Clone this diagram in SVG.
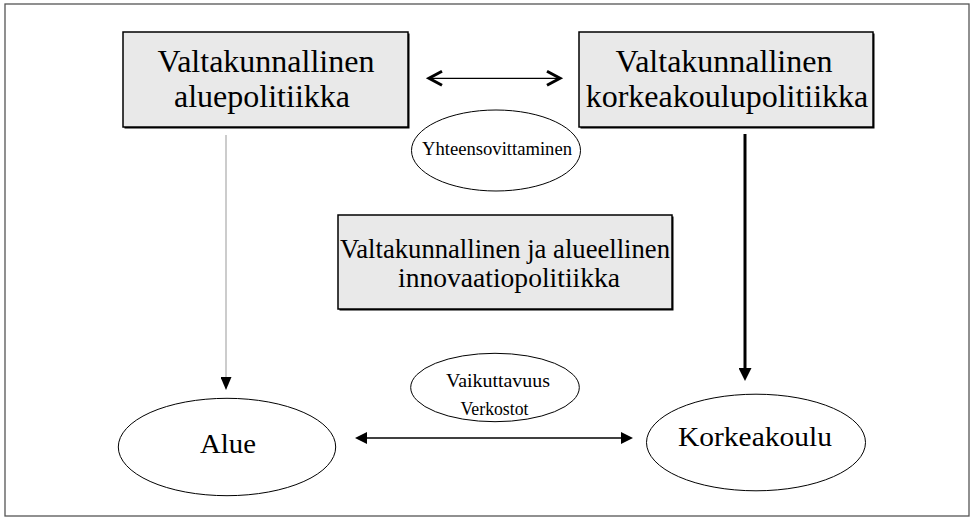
<svg xmlns="http://www.w3.org/2000/svg" width="978" height="518" viewBox="0 0 978 518">
<style>
.frame{fill:none;stroke:#555;stroke-width:1.3}
.box{fill:#e9e9e9;stroke:#000;stroke-width:1.5}
.shadow{fill:#000}
.ell{fill:#fff;stroke:#000;stroke-width:1}
.t{font-family:"Liberation Serif","Times New Roman",serif;fill:#000;text-anchor:middle}
.big{font-size:32px}
.mid{font-size:27px}
.lab{font-size:28px}
.sm{font-size:18px}
</style>
<defs>
<marker id="triS" markerUnits="userSpaceOnUse" viewBox="0 0 13 11" markerWidth="13" markerHeight="11" refX="0" refY="5.5" orient="auto-start-reverse"><path d="M0,0 L13,5.5 L0,11 z" fill="#000"/></marker>
<marker id="triB" markerUnits="userSpaceOnUse" viewBox="0 0 13 13" markerWidth="13" markerHeight="13" refX="0" refY="6.5" orient="auto-start-reverse"><path d="M0,0 L13,6.5 L0,13 z" fill="#000"/></marker>
<marker id="triH" markerUnits="userSpaceOnUse" viewBox="0 0 12 12" markerWidth="12" markerHeight="12" refX="0" refY="6" orient="auto-start-reverse"><path d="M0,0 L12,6 L0,12 z" fill="#000"/></marker>
<marker id="chev" markerUnits="userSpaceOnUse" viewBox="-4 -10 22 20" markerWidth="22" markerHeight="20" refX="13" refY="0" orient="auto-start-reverse"><path d="M0,-7 L13,0 L0,7" fill="none" stroke="#000" stroke-width="3"/></marker>
</defs>
<rect class="frame" x="5" y="4" width="964" height="512"/>
<g id="box-alue">
<rect class="shadow" x="124.5" y="33.5" width="285" height="95"/>
<rect class="box" x="123" y="32" width="285" height="95"/>
<text class="t big" x="266" y="72">Valtakunnallinen</text>
<text class="t big" x="262" y="107">aluepolitiikka</text>
</g>
<g id="box-korkeakoulu">
<rect class="shadow" x="580.5" y="33.5" width="294" height="95"/>
<rect class="box" x="579" y="32" width="294" height="95"/>
<text class="t big" x="724" y="72">Valtakunnallinen</text>
<text class="t big" x="727" y="107">korkeakoulupolitiikka</text>
</g>
<g id="box-innovaatio">
<rect class="shadow" x="339.5" y="216.5" width="334" height="94"/>
<rect class="box" x="338" y="215" width="334" height="94"/>
<text class="t mid" x="505" y="258" textLength="330" lengthAdjust="spacingAndGlyphs">Valtakunnallinen ja alueellinen</text>
<text class="t mid" x="509" y="287" textLength="222" lengthAdjust="spacingAndGlyphs">innovaatiopolitiikka</text>
</g>
<g id="ell-yhteen">
<ellipse class="ell" cx="496" cy="150.5" rx="84.5" ry="40.5"/>
<text class="t sm" x="497" y="155" textLength="150" lengthAdjust="spacingAndGlyphs">Yhteensovittaminen</text>
</g>
<g id="ell-vaikuttavuus">
<ellipse class="ell" cx="495" cy="387.5" rx="84.3" ry="34.2"/>
<text class="t sm" x="498" y="387" textLength="104" lengthAdjust="spacingAndGlyphs">Vaikuttavuus</text>
<text class="t sm" x="494.5" y="415" textLength="68" lengthAdjust="spacingAndGlyphs">Verkostot</text>
</g>
<g id="ell-alue">
<ellipse class="ell" cx="227" cy="447" rx="108.7" ry="48.7"/>
<text class="t lab" x="228" y="453" textLength="56" lengthAdjust="spacingAndGlyphs">Alue</text>
</g>
<g id="ell-korkeakoulu">
<ellipse class="ell" cx="756" cy="442.5" rx="109.5" ry="48.3"/>
<text class="t lab" x="755" y="446" textLength="154" lengthAdjust="spacingAndGlyphs">Korkeakoulu</text>
</g>
<g id="connectors">
<line x1="429" y1="78.3" x2="560" y2="78.3" stroke="#000" stroke-width="1.3" marker-start="url(#chev)" marker-end="url(#chev)"/>
<line x1="226" y1="135" x2="226" y2="377" stroke="#999" stroke-width="1" marker-end="url(#triS)"/>
<line x1="745" y1="134" x2="745" y2="368" stroke="#000" stroke-width="3" marker-end="url(#triB)"/>
<line x1="367" y1="438" x2="621" y2="438" stroke="#000" stroke-width="1.5" marker-start="url(#triH)" marker-end="url(#triH)"/>
</g>
</svg>
